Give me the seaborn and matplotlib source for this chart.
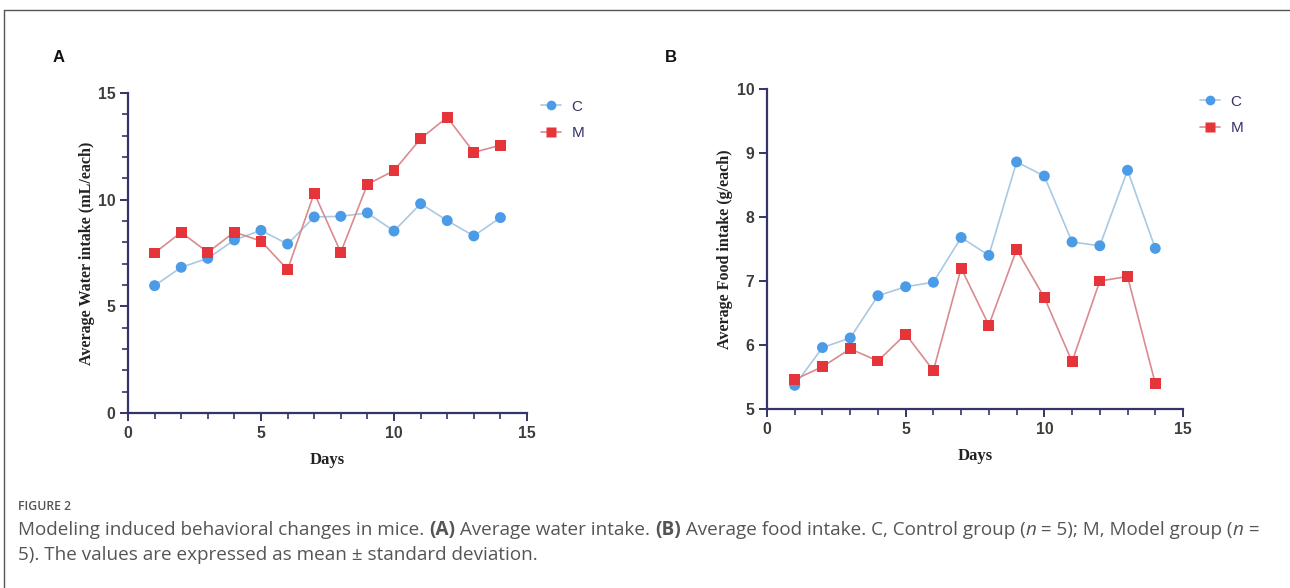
import numpy as np
import pandas as pd
import matplotlib
matplotlib.use("Agg")
import matplotlib.pyplot as plt
import seaborn as sns
from matplotlib.lines import Line2D
from matplotlib.ticker import MultipleLocator

# ---- data ----
days = list(range(1, 15))
water_C = [5.97, 6.83, 7.25, 8.11, 8.56, 7.92, 9.19, 9.22, 9.38, 8.53, 9.81, 9.02, 8.30, 9.16]
water_M = [7.50, 8.47, 7.53, 8.48, 8.06, 6.72, 10.31, 7.53, 10.72, 11.36, 12.86, 13.86, 12.22, 12.55]
food_C = [5.37, 5.96, 6.11, 6.77, 6.91, 6.98, 7.68, 7.40, 8.86, 8.64, 7.61, 7.55, 8.73, 7.51]
food_M = [5.46, 5.66, 5.94, 5.75, 6.17, 5.60, 7.20, 6.31, 7.49, 6.74, 5.74, 7.00, 7.07, 5.40]
groups = ["C", "M"]

sns.set_theme(style="white")
plt.rcParams['font.family'] = ['Liberation Sans', 'DejaVu Sans']

marker_col = {"C": "#4c9be6", "M": "#e5353a"}
line_col = {"C": "#a9c9e2", "M": "#d98b8e"}
markers = {"C": "o", "M": "s"}
spine_col = "#34346a"

fig = plt.figure(figsize=(12.9, 5.88), dpi=100)
W, H = 1290, 588


def fpos(x0, y0, x1, y1):
    return [x0 / W, 1 - y1 / H, (x1 - x0) / W, (y1 - y0) / H]


def make_df(c, m):
    return pd.DataFrame({"Day": days * 2, "val": c + m, "group": ["C"] * 14 + ["M"] * 14})


def panel(rect, df, ylim, ymajor, yminor, ylabel, ylab_x, leg_xy):
    ax = fig.add_axes(rect)
    sns.lineplot(data=df, x="Day", y="val", hue="group", palette=line_col, lw=1.2,
                 legend=False, ax=ax, zorder=2)
    sns.scatterplot(data=df, x="Day", y="val", hue="group", style="group", markers=markers,
                    palette=marker_col, s=62, edgecolor="none", legend=False, ax=ax, zorder=3)
    ax.set_xlim(0, 15)
    ax.set_ylim(*ylim)
    ax.xaxis.set_major_locator(MultipleLocator(5))
    ax.xaxis.set_minor_locator(MultipleLocator(1))
    ax.yaxis.set_major_locator(MultipleLocator(ymajor))
    if yminor:
        ax.yaxis.set_minor_locator(MultipleLocator(yminor))
    for s in ["top", "right"]:
        ax.spines[s].set_visible(False)
    for s in ["left", "bottom"]:
        ax.spines[s].set_color(spine_col)
        ax.spines[s].set_linewidth(1.6)
    ax.tick_params(which="major", direction="out", length=6, width=1.4, color=spine_col,
                   labelsize=11.3, labelcolor="#3c3c3c", left=True, bottom=True, pad=3)
    ax.tick_params(which="minor", direction="out", length=4, width=1.2, color=spine_col,
                   left=True, bottom=True)
    for lab in ax.get_xticklabels() + ax.get_yticklabels():
        lab.set_fontweight("bold")
    ax.set_xlabel("Days", family="Liberation Serif", weight="bold", fontsize=12,
                  color="#222222", labelpad=8)
    ax.set_ylabel(ylabel, family="Liberation Serif", weight="bold", fontsize=11.6,
                  color="#222222")
    ax.yaxis.set_label_coords(ylab_x, 0.5)
    handles = [Line2D([], [], color=line_col[g], marker=markers[g], markerfacecolor=marker_col[g],
                      markeredgecolor="none", markersize=7, lw=1.2) for g in groups]
    leg = ax.legend(handles, groups, loc="upper left", bbox_to_anchor=leg_xy,
                    bbox_transform=fig.transFigure, frameon=False, fontsize=11,
                    handlelength=1.3, handletextpad=0.7, labelspacing=0.8)
    for t in leg.get_texts():
        t.set_color("#33336a")
    return ax


panel(fpos(128, 93, 527, 413), make_df(water_C, water_M), (0, 15), 5, 1,
      "Average Water intake (mL/each)", (95 - 128) / 399, (527 / W, 1 - 86 / H))
panel(fpos(767, 89, 1183, 409), make_df(food_C, food_M), (5, 10), 1, None,
      "Average Food intake (g/each)", (733 - 767) / 416, (1186 / W, 1 - 81 / H))

# panel letters
fig.text(53 / W, 1 - 58 / H, "A", fontsize=12, weight="bold", color="#111111", va="center")
fig.text(665 / W, 1 - 58 / H, "B", fontsize=12, weight="bold", color="#111111", va="center")

# figure frame
fig.add_artist(Line2D([4 / W, 4 / W], [0, 1 - 10 / H], transform=fig.transFigure, color="#555555", lw=1))
fig.add_artist(Line2D([4 / W, 1], [1 - 10 / H, 1 - 10 / H], transform=fig.transFigure, color="#555555", lw=1))

# caption
cap_col = "#555555"
cf = "Open Sans"
cs = 13.55
y1, y2 = 535, 560
fig.text(18 / W, 1 - 507 / H, "FIGURE 2", fontsize=8.8, family=cf, color=cap_col, va="center",
         weight="semibold")

pieces1 = [("Modeling induced behavioral changes in mice. ", "r"), ("(A)", "b"),
           (" Average water intake. ", "r"), ("(B)", "b"),
           (" Average food intake. C, Control group (", "r"), ("n", "i"),
           (" = 5); M, Model group (", "r"), ("n", "i"), (" =", "r")]

chain = []
for txt, st in pieces1:
    kw = dict(fontsize=cs, family=cf, color=cap_col, va="baseline", ha="left")
    if st == "b":
        kw["weight"] = "bold"
    if st == "i":
        kw["style"] = "italic"
    chain.append(fig.text(18 / W, 1 - y1 / H, txt, **kw))

fig.text(18 / W, 1 - y2 / H, "5). The values are expressed as mean \u00b1 standard deviation.",
         fontsize=cs, family=cf, color=cap_col, va="baseline", ha="left")

# place caption pieces one after another using measured widths
fig.canvas.draw()
renderer = fig.canvas.get_renderer()
x = 18.0
for t in chain:
    t.set_position((x / W, 1 - y1 / H))
    bb = t.get_window_extent(renderer)
    x += bb.width

fig.savefig("out.png", dpi=100)
